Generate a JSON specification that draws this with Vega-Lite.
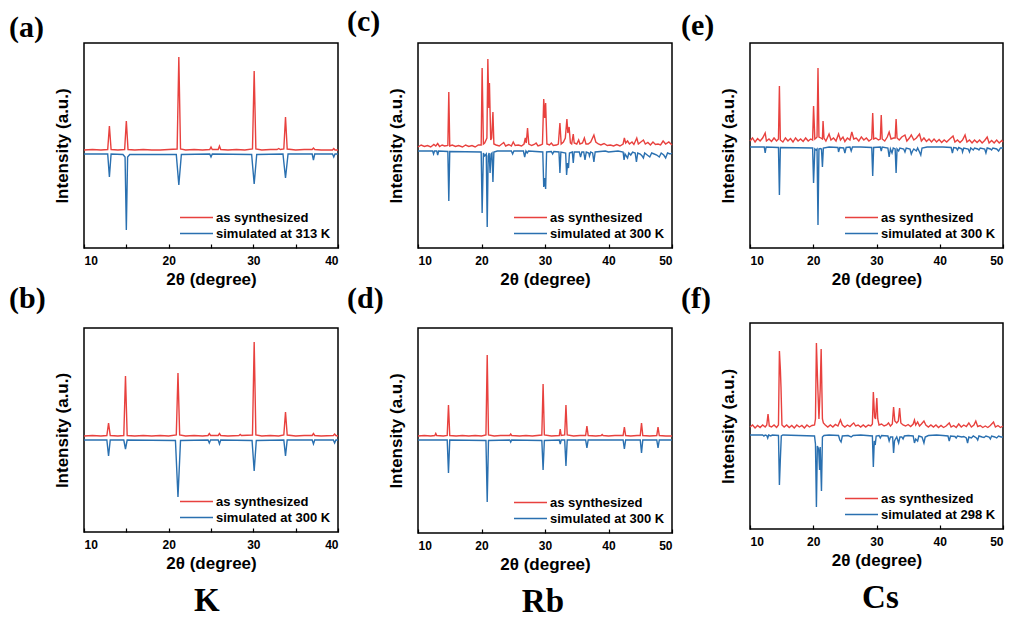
{
  "$schema": "https://vega.github.io/schema/vega-lite/v6.json",
  "background": "white",
  "padding": {"left": 8, "top": 6, "right": 5, "bottom": 3},
  "config": {
    "view": {"stroke": "black", "strokeWidth": 1.5},
    "axis": {"grid": false, "domain": false, "labelFont": "Liberation Sans", "labelFontWeight": "bold", "labelFontSize": 12, "labelColor": "black", "titleFont": "Liberation Sans", "titleColor": "black", "tickColor": "black", "tickWidth": 1.2},
    "legend": {"orient": "bottom-right", "offset": 7, "padding": 0, "symbolType": "M-1,0H5", "symbolStrokeWidth": 2, "symbolSize": 121, "labelFont": "Liberation Sans", "labelFontSize": 13, "labelFontWeight": "bold", "labelColor": "black", "labelOffset": 24, "rowPadding": 2, "title": null},
    "title": {"font": "Liberation Serif", "fontWeight": "bold", "color": "black"},
    "line": {"strokeWidth": 1.4}
  },
  "datasets": {
    "a_red": [
      {"x":10,"y":98},{"x":11,"y":98.5},{"x":12,"y":98},{"x":12.8,"y":98.5},{"x":13.0,"y":122},{"x":13.2,"y":98.5},{"x":14,"y":98},{"x":14.8,"y":98.5},{"x":15.0,"y":127},{"x":15.2,"y":98.5},{"x":16,"y":98},{"x":17,"y":98.5},{"x":18,"y":98},{"x":19,"y":98},{"x":20,"y":98.5},{"x":21.0,"y":99},{"x":21.2,"y":191},{"x":21.4,"y":99},{"x":22,"y":98},{"x":23,"y":98.5},{"x":24,"y":98},{"x":24.85,"y":98.5},{"x":25.0,"y":101},{"x":25.15,"y":98.5},{"x":25.85,"y":98.5},{"x":26.0,"y":102},{"x":26.15,"y":98.5},{"x":27,"y":98},{"x":28,"y":98.5},{"x":29,"y":98},{"x":29.9,"y":99},{"x":30.1,"y":177},{"x":30.3,"y":99},{"x":31,"y":98},{"x":32,"y":98.5},{"x":32.8,"y":98.5},{"x":33.0,"y":99.5},{"x":33.2,"y":98.5},{"x":33.6,"y":99},{"x":33.8,"y":131},{"x":34.0,"y":99},{"x":35,"y":98},{"x":36,"y":98.5},{"x":36.95,"y":98.5},{"x":37.1,"y":100},{"x":37.25,"y":98.5},{"x":38,"y":98},{"x":39.35,"y":98},{"x":39.5,"y":99.5},{"x":39.65,"y":98},{"x":40,"y":98}
    ],
    "a_blue": [
      {"x":10,"y":94},{"x":12.8,"y":94},{"x":13.0,"y":71},{"x":13.2,"y":94},{"x":14.6,"y":93.5},{"x":14.85,"y":91},{"x":15.0,"y":18},{"x":15.15,"y":91},{"x":15.4,"y":93.5},{"x":20.9,"y":93.5},{"x":21.2,"y":63},{"x":21.5,"y":93.5},{"x":24.85,"y":94},{"x":25.0,"y":91},{"x":25.15,"y":94},{"x":29.8,"y":93.5},{"x":30.1,"y":64},{"x":30.4,"y":93.5},{"x":33.5,"y":94},{"x":33.8,"y":70},{"x":34.1,"y":94},{"x":36.95,"y":94},{"x":37.1,"y":88},{"x":37.25,"y":94},{"x":39.35,"y":94},{"x":39.5,"y":91},{"x":39.65,"y":94},{"x":40,"y":94}
    ],
    "b_red": [
      {"x":10,"y":96},{"x":11,"y":96.5},{"x":12,"y":96},{"x":12.7,"y":96.5},{"x":12.9,"y":109},{"x":13.1,"y":96.5},{"x":14,"y":96},{"x":14.7,"y":96.5},{"x":14.9,"y":156},{"x":15.1,"y":96.5},{"x":16,"y":96},{"x":17,"y":96.5},{"x":18,"y":96},{"x":19,"y":96.5},{"x":20,"y":96},{"x":20.9,"y":97},{"x":21.1,"y":159},{"x":21.3,"y":97},{"x":22,"y":96},{"x":23,"y":96.5},{"x":24,"y":96},{"x":24.65,"y":96.5},{"x":24.8,"y":98.5},{"x":24.95,"y":96.5},{"x":25.85,"y":96.5},{"x":26.0,"y":98.5},{"x":26.15,"y":96.5},{"x":27,"y":96},{"x":28.3,"y":96.5},{"x":28.45,"y":97.5},{"x":28.6,"y":96.5},{"x":29.9,"y":97},{"x":30.1,"y":190},{"x":30.3,"y":97},{"x":31,"y":96},{"x":32,"y":96.5},{"x":33,"y":96},{"x":33.6,"y":97},{"x":33.8,"y":120},{"x":34.0,"y":97},{"x":35,"y":96},{"x":36,"y":96.5},{"x":36.95,"y":96.5},{"x":37.1,"y":98.5},{"x":37.25,"y":96.5},{"x":38,"y":96},{"x":39.45,"y":96.5},{"x":39.6,"y":98},{"x":39.75,"y":96.5},{"x":40,"y":96}
    ],
    "b_blue": [
      {"x":10,"y":92},{"x":12.7,"y":92},{"x":12.9,"y":76},{"x":13.1,"y":92},{"x":14.7,"y":92},{"x":14.9,"y":83},{"x":15.1,"y":92},{"x":20.8,"y":91.5},{"x":21.1,"y":35},{"x":21.4,"y":91.5},{"x":24.65,"y":92},{"x":24.8,"y":89},{"x":24.95,"y":92},{"x":25.85,"y":92},{"x":26.0,"y":88},{"x":26.15,"y":92},{"x":29.85,"y":91.5},{"x":30.1,"y":61},{"x":30.35,"y":91.5},{"x":33.6,"y":92},{"x":33.8,"y":76},{"x":34.0,"y":92},{"x":36.95,"y":92},{"x":37.1,"y":88},{"x":37.25,"y":92},{"x":39.45,"y":92},{"x":39.6,"y":89},{"x":39.75,"y":92},{"x":40,"y":92}
    ],
    "c_red": [
      {"x":10,"y":101},{"x":10.5,"y":103},{"x":11,"y":101.5},{"x":11.5,"y":102.5},{"x":12,"y":101},{"x":12.5,"y":103.5},{"x":12.8,"y":102},{"x":13.1,"y":104.5},{"x":13.4,"y":101.5},{"x":13.8,"y":103},{"x":14.2,"y":102},{"x":14.7,"y":102.5},{"x":14.85,"y":156},{"x":15.0,"y":102},{"x":15.4,"y":103},{"x":15.9,"y":101.5},{"x":16.4,"y":102.5},{"x":17,"y":101},{"x":17.5,"y":103},{"x":18,"y":101.5},{"x":18.5,"y":102.5},{"x":19,"y":101},{"x":19.5,"y":103},{"x":19.95,"y":103},{"x":20.1,"y":180},{"x":20.3,"y":104},{"x":20.5,"y":105},{"x":20.85,"y":110},{"x":21.0,"y":189},{"x":21.15,"y":140},{"x":21.25,"y":165},{"x":21.45,"y":108},{"x":21.6,"y":110},{"x":21.8,"y":136},{"x":21.95,"y":104},{"x":22.3,"y":103},{"x":22.8,"y":102},{"x":23.2,"y":104},{"x":23.5,"y":105.5},{"x":23.8,"y":102},{"x":24.3,"y":103.5},{"x":24.7,"y":102},{"x":25.0,"y":106},{"x":25.3,"y":102.5},{"x":25.8,"y":103},{"x":26.3,"y":102},{"x":26.7,"y":104},{"x":26.9,"y":110},{"x":27.05,"y":105},{"x":27.25,"y":120},{"x":27.45,"y":104},{"x":27.9,"y":102.5},{"x":28.3,"y":103.5},{"x":28.6,"y":105},{"x":28.9,"y":102},{"x":29.3,"y":103},{"x":29.6,"y":104},{"x":29.8,"y":149},{"x":29.95,"y":130},{"x":30.1,"y":145},{"x":30.3,"y":104},{"x":30.7,"y":103},{"x":31.0,"y":105},{"x":31.3,"y":102.5},{"x":31.8,"y":103},{"x":32.1,"y":104},{"x":32.35,"y":125},{"x":32.55,"y":104},{"x":32.9,"y":106},{"x":33.2,"y":110},{"x":33.45,"y":129},{"x":33.6,"y":115},{"x":33.8,"y":121},{"x":34.0,"y":105},{"x":34.2,"y":104},{"x":34.45,"y":114},{"x":34.6,"y":105},{"x":35.0,"y":104},{"x":35.3,"y":108},{"x":35.5,"y":104},{"x":35.9,"y":105},{"x":36.2,"y":110},{"x":36.45,"y":104},{"x":36.8,"y":104},{"x":37.2,"y":106},{"x":37.7,"y":113},{"x":38.0,"y":106},{"x":38.4,"y":104},{"x":38.8,"y":103},{"x":39.3,"y":104.5},{"x":39.8,"y":102.5},{"x":40.3,"y":103},{"x":40.8,"y":102},{"x":41.3,"y":103.5},{"x":41.8,"y":102},{"x":42.3,"y":104},{"x":42.5,"y":110},{"x":42.7,"y":105},{"x":43.0,"y":107},{"x":43.3,"y":104},{"x":43.7,"y":106},{"x":44.0,"y":103.5},{"x":44.45,"y":110},{"x":44.7,"y":104},{"x":45.1,"y":106},{"x":45.5,"y":108},{"x":45.8,"y":104},{"x":46.2,"y":105.5},{"x":46.6,"y":103},{"x":47.0,"y":106},{"x":47.4,"y":103.5},{"x":47.8,"y":104},{"x":48.2,"y":103},{"x":48.6,"y":107},{"x":49.0,"y":104},{"x":49.5,"y":106},{"x":50,"y":103}
    ],
    "c_blue": [
      {"x":10,"y":97},{"x":12.3,"y":97},{"x":12.45,"y":94},{"x":12.6,"y":97},{"x":12.95,"y":97},{"x":13.1,"y":93},{"x":13.25,"y":97},{"x":14.7,"y":96.5},{"x":14.85,"y":47},{"x":15.0,"y":96.5},{"x":19.95,"y":96},{"x":20.1,"y":35},{"x":20.3,"y":95},{"x":20.5,"y":92},{"x":20.75,"y":94},{"x":20.9,"y":21},{"x":21.05,"y":92},{"x":21.2,"y":95},{"x":21.35,"y":75},{"x":21.5,"y":94},{"x":21.65,"y":95},{"x":21.8,"y":66},{"x":21.95,"y":96},{"x":22.5,"y":97},{"x":24.7,"y":97},{"x":24.9,"y":94},{"x":25.1,"y":97},{"x":26.6,"y":97},{"x":26.8,"y":91},{"x":27.0,"y":97},{"x":27.2,"y":95},{"x":27.4,"y":97},{"x":29.65,"y":96},{"x":29.8,"y":61},{"x":29.95,"y":70},{"x":30.1,"y":59},{"x":30.25,"y":96},{"x":31.0,"y":96.5},{"x":31.2,"y":94},{"x":31.4,"y":96.5},{"x":32.2,"y":96},{"x":32.35,"y":75},{"x":32.5,"y":96},{"x":33.25,"y":95},{"x":33.4,"y":73},{"x":33.55,"y":85},{"x":33.7,"y":80},{"x":33.85,"y":95},{"x":34.3,"y":96},{"x":34.45,"y":85},{"x":34.6,"y":96},{"x":35.4,"y":96},{"x":35.6,"y":91},{"x":35.8,"y":96},{"x":36.1,"y":96},{"x":36.3,"y":88},{"x":36.5,"y":96},{"x":36.9,"y":95},{"x":37.0,"y":92},{"x":37.2,"y":96},{"x":37.5,"y":95},{"x":37.7,"y":86},{"x":37.9,"y":96},{"x":39.5,"y":97},{"x":40,"y":96},{"x":41.5,"y":97},{"x":42.3,"y":96},{"x":42.45,"y":88},{"x":42.6,"y":94},{"x":42.8,"y":92},{"x":43.0,"y":90},{"x":43.2,"y":95},{"x":43.5,"y":93},{"x":43.8,"y":96},{"x":44.2,"y":95},{"x":44.4,"y":86},{"x":44.6,"y":95},{"x":45.0,"y":94},{"x":45.3,"y":92},{"x":45.5,"y":90},{"x":45.7,"y":95},{"x":46.1,"y":93},{"x":46.5,"y":91},{"x":46.8,"y":95},{"x":47.2,"y":94},{"x":47.6,"y":93},{"x":48.0,"y":91},{"x":48.3,"y":95},{"x":48.7,"y":93},{"x":49.0,"y":90},{"x":49.3,"y":95},{"x":49.7,"y":94},{"x":50,"y":95}
    ],
    "d_red": [
      {"x":10,"y":97},{"x":11,"y":97.5},{"x":12,"y":97},{"x":12.65,"y":97.5},{"x":12.8,"y":99.5},{"x":12.95,"y":97.5},{"x":14,"y":97},{"x":14.6,"y":97.5},{"x":14.8,"y":128},{"x":15.0,"y":97.5},{"x":16,"y":97},{"x":17,"y":97.5},{"x":18,"y":97},{"x":19,"y":97.5},{"x":20,"y":97},{"x":20.7,"y":98},{"x":20.9,"y":178},{"x":21.1,"y":98},{"x":22,"y":97},{"x":23,"y":97.5},{"x":24.45,"y":97.5},{"x":24.6,"y":99},{"x":24.75,"y":97.5},{"x":26,"y":97},{"x":27,"y":97.5},{"x":28,"y":97},{"x":29.5,"y":98},{"x":29.7,"y":149},{"x":29.9,"y":98},{"x":31,"y":97},{"x":32.25,"y":97.5},{"x":32.4,"y":104},{"x":32.55,"y":97.5},{"x":33.1,"y":98},{"x":33.3,"y":128},{"x":33.5,"y":98},{"x":34.5,"y":97},{"x":35.5,"y":97.5},{"x":36.4,"y":97.5},{"x":36.6,"y":107},{"x":36.8,"y":97.5},{"x":38,"y":97},{"x":38.85,"y":97.5},{"x":39.0,"y":98.5},{"x":39.15,"y":97.5},{"x":40,"y":97},{"x":41,"y":97.5},{"x":42.3,"y":97.5},{"x":42.5,"y":106},{"x":42.7,"y":97.5},{"x":43.5,"y":97},{"x":44.5,"y":97.5},{"x":45.0,"y":97.5},{"x":45.2,"y":110},{"x":45.4,"y":97.5},{"x":46.5,"y":97},{"x":47.6,"y":97.5},{"x":47.8,"y":106},{"x":48.0,"y":97.5},{"x":49,"y":97},{"x":50,"y":97}
    ],
    "d_blue": [
      {"x":10,"y":93},{"x":14.6,"y":93},{"x":14.8,"y":60},{"x":15.0,"y":93},{"x":20.7,"y":92.5},{"x":20.9,"y":31},{"x":21.1,"y":92.5},{"x":24.45,"y":93},{"x":24.6,"y":91},{"x":24.75,"y":93},{"x":29.5,"y":92.5},{"x":29.7,"y":63},{"x":29.9,"y":92.5},{"x":32.25,"y":93},{"x":32.4,"y":89},{"x":32.55,"y":93},{"x":33.1,"y":93},{"x":33.3,"y":67},{"x":33.5,"y":93},{"x":36.4,"y":93},{"x":36.6,"y":85},{"x":36.8,"y":93},{"x":42.3,"y":93},{"x":42.5,"y":84},{"x":42.7,"y":93},{"x":45.0,"y":93},{"x":45.2,"y":80},{"x":45.4,"y":93},{"x":47.6,"y":93},{"x":47.8,"y":85},{"x":48.0,"y":93},{"x":50,"y":93}
    ],
    "e_red": [
      {"x":10,"y":107},{"x":10.4,"y":110},{"x":10.8,"y":106},{"x":11.2,"y":109.5},{"x":11.6,"y":107},{"x":12.0,"y":110},{"x":12.4,"y":115},{"x":12.6,"y":107},{"x":13.0,"y":109},{"x":13.4,"y":106.5},{"x":13.8,"y":110},{"x":14.2,"y":107},{"x":14.5,"y":109},{"x":14.65,"y":162},{"x":14.8,"y":108},{"x":15.2,"y":106},{"x":15.6,"y":110},{"x":16.0,"y":107},{"x":16.4,"y":109.5},{"x":16.8,"y":106},{"x":17.2,"y":110},{"x":17.6,"y":107},{"x":18.0,"y":109},{"x":18.4,"y":106.5},{"x":18.8,"y":110},{"x":19.2,"y":107},{"x":19.6,"y":109},{"x":19.9,"y":108},{"x":20.05,"y":142},{"x":20.25,"y":109},{"x":20.45,"y":110},{"x":20.6,"y":111},{"x":20.75,"y":180},{"x":20.9,"y":111},{"x":21.2,"y":110},{"x":21.45,"y":109},{"x":21.55,"y":127},{"x":21.7,"y":110},{"x":22.0,"y":107},{"x":22.5,"y":114},{"x":22.8,"y":108},{"x":23.2,"y":110},{"x":23.6,"y":107},{"x":24.0,"y":114},{"x":24.3,"y":108},{"x":24.7,"y":111},{"x":25.0,"y":106.5},{"x":25.4,"y":110},{"x":25.8,"y":108},{"x":26.1,"y":116},{"x":26.4,"y":109},{"x":26.8,"y":110},{"x":27.2,"y":107},{"x":27.6,"y":111},{"x":28.0,"y":108},{"x":28.4,"y":110},{"x":28.8,"y":107},{"x":29.25,"y":109},{"x":29.4,"y":135},{"x":29.55,"y":109},{"x":29.9,"y":110},{"x":30.3,"y":108},{"x":30.6,"y":109},{"x":30.75,"y":133},{"x":30.9,"y":109},{"x":31.3,"y":107},{"x":31.7,"y":111},{"x":32.0,"y":116},{"x":32.3,"y":109},{"x":32.7,"y":110},{"x":32.95,"y":110},{"x":33.1,"y":129},{"x":33.25,"y":110},{"x":33.6,"y":108},{"x":34.0,"y":111},{"x":34.5,"y":113},{"x":34.8,"y":107},{"x":35.2,"y":110},{"x":35.5,"y":113},{"x":35.9,"y":108},{"x":36.3,"y":110},{"x":36.8,"y":114},{"x":37.1,"y":107},{"x":37.5,"y":110},{"x":37.9,"y":106.5},{"x":38.3,"y":109},{"x":38.7,"y":106},{"x":39.1,"y":109},{"x":39.5,"y":106},{"x":39.9,"y":108.5},{"x":40.3,"y":105.5},{"x":40.7,"y":108},{"x":41.1,"y":106},{"x":41.5,"y":108.5},{"x":42.1,"y":112},{"x":42.4,"y":106},{"x":42.8,"y":108},{"x":43.2,"y":105.5},{"x":43.6,"y":108},{"x":44.0,"y":113},{"x":44.3,"y":106},{"x":44.7,"y":108},{"x":45.1,"y":105},{"x":45.5,"y":108},{"x":45.9,"y":105.5},{"x":46.3,"y":108},{"x":46.7,"y":105},{"x":47.1,"y":107.5},{"x":47.5,"y":111},{"x":47.8,"y":105},{"x":48.2,"y":107.5},{"x":48.6,"y":105},{"x":49.0,"y":108},{"x":49.4,"y":105},{"x":49.8,"y":107.5},{"x":50,"y":106}
    ],
    "e_blue": [
      {"x":10,"y":101},{"x":12.25,"y":101},{"x":12.4,"y":95},{"x":12.55,"y":101},{"x":14.5,"y":100.5},{"x":14.65,"y":53},{"x":14.8,"y":100.5},{"x":19.9,"y":100},{"x":20.05,"y":65},{"x":20.25,"y":99},{"x":20.45,"y":98},{"x":20.6,"y":99},{"x":20.75,"y":23},{"x":20.9,"y":99},{"x":21.1,"y":99.5},{"x":21.3,"y":99},{"x":21.45,"y":81},{"x":21.6,"y":100},{"x":22.5,"y":101},{"x":23.9,"y":100.5},{"x":24.0,"y":96},{"x":24.2,"y":100.5},{"x":24.8,"y":100},{"x":25.0,"y":95},{"x":25.2,"y":100.5},{"x":25.8,"y":101},{"x":26.0,"y":97},{"x":26.2,"y":101},{"x":27.5,"y":101},{"x":29.25,"y":100.5},{"x":29.4,"y":72},{"x":29.55,"y":100.5},{"x":30.6,"y":101},{"x":30.75,"y":97},{"x":30.9,"y":101},{"x":31.8,"y":100},{"x":32.0,"y":91},{"x":32.2,"y":99},{"x":32.45,"y":95},{"x":32.65,"y":100},{"x":32.95,"y":99},{"x":33.1,"y":75},{"x":33.25,"y":99},{"x":33.5,"y":97},{"x":33.7,"y":100},{"x":34.3,"y":99},{"x":34.5,"y":96},{"x":34.7,"y":100},{"x":35.3,"y":99},{"x":35.5,"y":94},{"x":35.7,"y":97},{"x":35.9,"y":99},{"x":36.3,"y":97},{"x":36.5,"y":100},{"x":36.8,"y":96},{"x":37.0,"y":93},{"x":37.2,"y":100},{"x":38,"y":101},{"x":39,"y":101},{"x":40.5,"y":101},{"x":41.8,"y":100.5},{"x":42.0,"y":95},{"x":42.2,"y":100.5},{"x":42.6,"y":100},{"x":42.8,"y":98},{"x":43.0,"y":100.5},{"x":43.5,"y":99},{"x":43.6,"y":96},{"x":43.8,"y":100},{"x":44.5,"y":99},{"x":44.7,"y":96},{"x":44.9,"y":100},{"x":45.3,"y":98},{"x":45.5,"y":100},{"x":46.0,"y":99},{"x":46.2,"y":98},{"x":46.4,"y":100},{"x":47.1,"y":99},{"x":47.3,"y":95},{"x":47.5,"y":100},{"x":48.0,"y":99},{"x":48.2,"y":98},{"x":48.4,"y":100},{"x":49.0,"y":99},{"x":49.3,"y":97},{"x":49.6,"y":100},{"x":50,"y":100}
    ],
    "f_red": [
      {"x":10,"y":102},{"x":10.4,"y":104},{"x":10.8,"y":101},{"x":11.2,"y":103.5},{"x":11.6,"y":101.5},{"x":12.0,"y":104},{"x":12.4,"y":102},{"x":12.65,"y":104},{"x":12.85,"y":115},{"x":13.05,"y":103},{"x":13.4,"y":102},{"x":13.8,"y":104},{"x":14.2,"y":101.5},{"x":14.5,"y":104},{"x":14.65,"y":178},{"x":14.8,"y":160},{"x":14.9,"y":142},{"x":15.05,"y":104},{"x":15.4,"y":102},{"x":15.8,"y":104},{"x":16.2,"y":101.5},{"x":16.6,"y":103.5},{"x":17.0,"y":101},{"x":17.4,"y":104},{"x":17.8,"y":102},{"x":18.2,"y":103.5},{"x":18.6,"y":101},{"x":19.0,"y":104},{"x":19.4,"y":102},{"x":19.8,"y":103.5},{"x":20.2,"y":104},{"x":20.35,"y":110},{"x":20.5,"y":186},{"x":20.7,"y":145},{"x":20.9,"y":110},{"x":21.1,"y":140},{"x":21.25,"y":180},{"x":21.45,"y":110},{"x":21.6,"y":106},{"x":21.9,"y":104},{"x":22.3,"y":102},{"x":22.7,"y":104},{"x":23.1,"y":102},{"x":23.5,"y":104.5},{"x":23.9,"y":103},{"x":24.3,"y":109},{"x":24.6,"y":104},{"x":25.0,"y":102},{"x":25.4,"y":104},{"x":25.8,"y":102.5},{"x":26.2,"y":105},{"x":26.4,"y":106},{"x":26.7,"y":103},{"x":27.1,"y":104},{"x":27.5,"y":102},{"x":27.9,"y":104},{"x":28.3,"y":102},{"x":28.7,"y":104},{"x":29.1,"y":103},{"x":29.35,"y":105},{"x":29.5,"y":137},{"x":29.7,"y":112},{"x":29.85,"y":110},{"x":30.05,"y":131},{"x":30.2,"y":110},{"x":30.4,"y":104},{"x":30.8,"y":105},{"x":31.2,"y":103},{"x":31.6,"y":104},{"x":31.9,"y":106},{"x":32.2,"y":103},{"x":32.5,"y":105},{"x":32.7,"y":122},{"x":32.9,"y":108},{"x":33.2,"y":106},{"x":33.45,"y":108},{"x":33.65,"y":121},{"x":33.85,"y":106},{"x":34.2,"y":104},{"x":34.6,"y":103},{"x":35.0,"y":104.5},{"x":35.4,"y":102.5},{"x":35.8,"y":105},{"x":36.0,"y":109},{"x":36.2,"y":104},{"x":36.5,"y":107},{"x":36.8,"y":103},{"x":37.1,"y":105},{"x":37.5,"y":108},{"x":37.8,"y":104},{"x":38.2,"y":102},{"x":38.6,"y":104},{"x":39.0,"y":102},{"x":39.4,"y":104},{"x":39.8,"y":101.5},{"x":40.2,"y":103.5},{"x":40.6,"y":101.5},{"x":41.0,"y":103},{"x":41.5,"y":106},{"x":41.8,"y":102},{"x":42.2,"y":103.5},{"x":42.6,"y":101.5},{"x":43.0,"y":105},{"x":43.4,"y":102},{"x":43.8,"y":104},{"x":44.2,"y":102.5},{"x":44.6,"y":106},{"x":45.0,"y":102},{"x":45.4,"y":104},{"x":45.7,"y":108},{"x":46.0,"y":102.5},{"x":46.4,"y":103.5},{"x":46.8,"y":101.5},{"x":47.2,"y":103},{"x":47.6,"y":101.5},{"x":48.0,"y":103.5},{"x":48.5,"y":107},{"x":48.8,"y":102},{"x":49.2,"y":103.5},{"x":49.6,"y":101.5},{"x":50,"y":103}
    ],
    "f_blue": [
      {"x":10,"y":94},{"x":12.0,"y":94},{"x":12.2,"y":93},{"x":12.4,"y":94},{"x":12.65,"y":93.5},{"x":12.8,"y":91},{"x":12.95,"y":94},{"x":13.3,"y":93},{"x":13.5,"y":94},{"x":14.5,"y":93.5},{"x":14.65,"y":44},{"x":14.8,"y":70},{"x":14.95,"y":93},{"x":15.2,"y":94},{"x":20.2,"y":93},{"x":20.35,"y":85},{"x":20.5,"y":22},{"x":20.65,"y":83},{"x":20.85,"y":80},{"x":21.0,"y":59},{"x":21.1,"y":82},{"x":21.3,"y":38},{"x":21.45,"y":92},{"x":21.7,"y":93.5},{"x":22.5,"y":94},{"x":24.0,"y":93.5},{"x":24.2,"y":89},{"x":24.4,"y":87},{"x":24.6,"y":93},{"x":25.5,"y":93.5},{"x":26.0,"y":92},{"x":26.3,"y":93.5},{"x":27.5,"y":94},{"x":29.35,"y":93},{"x":29.5,"y":62},{"x":29.65,"y":88},{"x":29.8,"y":84},{"x":29.95,"y":93},{"x":30.4,"y":93.5},{"x":30.6,"y":91},{"x":30.8,"y":93.5},{"x":31.8,"y":93},{"x":32.0,"y":88},{"x":32.2,"y":92},{"x":32.55,"y":92},{"x":32.7,"y":76},{"x":32.85,"y":88},{"x":33.0,"y":90},{"x":33.2,"y":92},{"x":33.5,"y":86},{"x":33.7,"y":92},{"x":34.0,"y":92},{"x":34.2,"y":90},{"x":34.4,"y":93},{"x":35.0,"y":93.5},{"x":35.8,"y":93},{"x":36.0,"y":86},{"x":36.2,"y":90},{"x":36.5,"y":88},{"x":36.7,"y":93},{"x":37.2,"y":92},{"x":37.5,"y":86},{"x":37.7,"y":92},{"x":38.2,"y":93.5},{"x":39.5,"y":94},{"x":40.5,"y":93.5},{"x":41.3,"y":93},{"x":41.5,"y":88},{"x":41.7,"y":93},{"x":42.4,"y":92.5},{"x":42.6,"y":91},{"x":42.8,"y":93},{"x":43.5,"y":92},{"x":43.8,"y":92.5},{"x":44.2,"y":91},{"x":44.4,"y":86},{"x":44.6,"y":92},{"x":45.0,"y":91},{"x":45.3,"y":93},{"x":45.8,"y":91},{"x":46.0,"y":89},{"x":46.2,"y":93},{"x":46.7,"y":92},{"x":47.0,"y":91.5},{"x":47.3,"y":93},{"x":47.8,"y":92},{"x":48.0,"y":90},{"x":48.2,"y":93},{"x":48.7,"y":92},{"x":49.0,"y":91},{"x":49.3,"y":93},{"x":49.7,"y":92},{"x":50,"y":92}
    ]
  },
  "spacing": 4,
  "resolve": {"scale": {"color": "independent"}, "legend": {"color": "independent"}},
  "hconcat": [
    {
      "spacing": 80,
      "bounds": "flush",
      "resolve": {"scale": {"color": "independent"}, "legend": {"color": "independent"}},
      "title": {"text": "K", "orient": "bottom", "anchor": "middle", "fontSize": 33, "offset": 13, "dx": 32},
      "vconcat": [
        {
          "width": 254, "height": 205,
          "title": {"text": "(a)", "anchor": "start", "frame": "group", "dx": -75, "offset": 0, "fontSize": 30},
          "layer": [
            {"data": {"name": "a_red"}, "mark": {"type": "line", "color": "#e8413e"},
             "encoding": {
               "x": {"field": "x", "type": "quantitative", "scale": {"domain": [10, 40], "nice": false}, "axis": {"values": [10, 15, 20, 25, 30, 35, 40], "labelExpr": "datum.value % 10 === 0 ? datum.label : ''", "tickSize": -4, "labelPadding": 11, "title": "2θ (degree)", "titleFontSize": 17, "titleFontWeight": "bold", "titlePadding": 5}},
               "y": {"field": "y", "type": "quantitative", "scale": {"domain": [0, 205], "nice": false}, "axis": {"labels": false, "ticks": false, "title": "Intensity (a.u.)", "titleFontSize": 17, "titleFontWeight": "bold", "titlePadding": 13}},
               "color": {"datum": "as synthesized", "type": "nominal", "scale": {"domain": ["as synthesized", "simulated at 313 K"], "range": ["#e8413e", "#2a70b0"]}}
             }},
            {"data": {"name": "a_blue"}, "mark": {"type": "line"},
             "encoding": {
               "x": {"field": "x", "type": "quantitative"},
               "y": {"field": "y", "type": "quantitative"},
               "color": {"datum": "simulated at 313 K", "type": "nominal"}
             }}
          ]
        },
        {
          "width": 254, "height": 204,
          "title": {"text": "(b)", "anchor": "start", "frame": "group", "dx": -75, "offset": 14, "fontSize": 30},
          "layer": [
            {"data": {"name": "b_red"}, "mark": {"type": "line"},
             "encoding": {
               "x": {"field": "x", "type": "quantitative", "scale": {"domain": [10, 40], "nice": false}, "axis": {"values": [10, 15, 20, 25, 30, 35, 40], "labelExpr": "datum.value % 10 === 0 ? datum.label : ''", "tickSize": -4, "labelPadding": 11, "title": "2θ (degree)", "titleFontSize": 17, "titleFontWeight": "bold", "titlePadding": 5}},
               "y": {"field": "y", "type": "quantitative", "scale": {"domain": [0, 204], "nice": false}, "axis": {"labels": false, "ticks": false, "title": "Intensity (a.u.)", "titleFontSize": 17, "titleFontWeight": "bold", "titlePadding": 13}},
               "color": {"datum": "as synthesized", "type": "nominal", "scale": {"domain": ["as synthesized", "simulated at 300 K"], "range": ["#e8413e", "#2a70b0"]}}
             }},
            {"data": {"name": "b_blue"}, "mark": {"type": "line"},
             "encoding": {
               "x": {"field": "x", "type": "quantitative"},
               "y": {"field": "y", "type": "quantitative"},
               "color": {"datum": "simulated at 300 K", "type": "nominal"}
             }}
          ]
        }
      ]
    },
    {
      "spacing": 80,
      "bounds": "flush",
      "resolve": {"scale": {"color": "independent"}, "legend": {"color": "independent"}},
      "title": {"text": "Rb", "orient": "bottom", "anchor": "middle", "fontSize": 33, "offset": 13, "dx": 32},
      "vconcat": [
        {
          "width": 254, "height": 205,
          "title": {"text": "(c)", "anchor": "start", "frame": "group", "dx": -71, "offset": 6, "fontSize": 30},
          "layer": [
            {"data": {"name": "c_red"}, "mark": {"type": "line"},
             "encoding": {
               "x": {"field": "x", "type": "quantitative", "scale": {"domain": [10, 50], "nice": false}, "axis": {"values": [10, 15, 20, 25, 30, 35, 40, 45, 50], "labelExpr": "datum.value % 10 === 0 ? datum.label : ''", "tickSize": -4, "labelPadding": 11, "title": "2θ (degree)", "titleFontSize": 17, "titleFontWeight": "bold", "titlePadding": 5}},
               "y": {"field": "y", "type": "quantitative", "scale": {"domain": [0, 205], "nice": false}, "axis": {"labels": false, "ticks": false, "title": "Intensity (a.u.)", "titleFontSize": 17, "titleFontWeight": "bold", "titlePadding": 13}},
               "color": {"datum": "as synthesized", "type": "nominal", "scale": {"domain": ["as synthesized", "simulated at 300 K"], "range": ["#e8413e", "#2a70b0"]}}
             }},
            {"data": {"name": "c_blue"}, "mark": {"type": "line"},
             "encoding": {
               "x": {"field": "x", "type": "quantitative"},
               "y": {"field": "y", "type": "quantitative"},
               "color": {"datum": "simulated at 300 K", "type": "nominal"}
             }}
          ]
        },
        {
          "width": 254, "height": 205,
          "title": {"text": "(d)", "anchor": "start", "frame": "group", "dx": -71, "offset": 14, "fontSize": 30},
          "layer": [
            {"data": {"name": "d_red"}, "mark": {"type": "line"},
             "encoding": {
               "x": {"field": "x", "type": "quantitative", "scale": {"domain": [10, 50], "nice": false}, "axis": {"values": [10, 15, 20, 25, 30, 35, 40, 45, 50], "labelExpr": "datum.value % 10 === 0 ? datum.label : ''", "tickSize": -4, "labelPadding": 11, "title": "2θ (degree)", "titleFontSize": 17, "titleFontWeight": "bold", "titlePadding": 5}},
               "y": {"field": "y", "type": "quantitative", "scale": {"domain": [0, 205], "nice": false}, "axis": {"labels": false, "ticks": false, "title": "Intensity (a.u.)", "titleFontSize": 17, "titleFontWeight": "bold", "titlePadding": 13}},
               "color": {"datum": "as synthesized", "type": "nominal", "scale": {"domain": ["as synthesized", "simulated at 300 K"], "range": ["#e8413e", "#2a70b0"]}}
             }},
            {"data": {"name": "d_blue"}, "mark": {"type": "line"},
             "encoding": {
               "x": {"field": "x", "type": "quantitative"},
               "y": {"field": "y", "type": "quantitative"},
               "color": {"datum": "simulated at 300 K", "type": "nominal"}
             }}
          ]
        }
      ]
    },
    {
      "spacing": 75,
      "bounds": "flush",
      "resolve": {"scale": {"color": "independent"}, "legend": {"color": "independent"}},
      "title": {"text": "Cs", "orient": "bottom", "anchor": "middle", "fontSize": 33, "offset": 13, "dx": 37},
      "vconcat": [
        {
          "width": 253, "height": 205,
          "title": {"text": "(e)", "anchor": "start", "frame": "group", "dx": -69, "offset": 2, "fontSize": 30},
          "layer": [
            {"data": {"name": "e_red"}, "mark": {"type": "line"},
             "encoding": {
               "x": {"field": "x", "type": "quantitative", "scale": {"domain": [10, 50], "nice": false}, "axis": {"values": [10, 15, 20, 25, 30, 35, 40, 45, 50], "labelExpr": "datum.value % 10 === 0 ? datum.label : ''", "tickSize": -4, "labelPadding": 11, "title": "2θ (degree)", "titleFontSize": 17, "titleFontWeight": "bold", "titlePadding": 5}},
               "y": {"field": "y", "type": "quantitative", "scale": {"domain": [0, 205], "nice": false}, "axis": {"labels": false, "ticks": false, "title": "Intensity (a.u.)", "titleFontSize": 17, "titleFontWeight": "bold", "titlePadding": 13}},
               "color": {"datum": "as synthesized", "type": "nominal", "scale": {"domain": ["as synthesized", "simulated at 300 K"], "range": ["#e8413e", "#2a70b0"]}}
             }},
            {"data": {"name": "e_blue"}, "mark": {"type": "line"},
             "encoding": {
               "x": {"field": "x", "type": "quantitative"},
               "y": {"field": "y", "type": "quantitative"},
               "color": {"datum": "simulated at 300 K", "type": "nominal"}
             }}
          ]
        },
        {
          "width": 253, "height": 206,
          "title": {"text": "(f)", "anchor": "start", "frame": "group", "dx": -69, "offset": 9, "fontSize": 30},
          "layer": [
            {"data": {"name": "f_red"}, "mark": {"type": "line"},
             "encoding": {
               "x": {"field": "x", "type": "quantitative", "scale": {"domain": [10, 50], "nice": false}, "axis": {"values": [10, 15, 20, 25, 30, 35, 40, 45, 50], "labelExpr": "datum.value % 10 === 0 ? datum.label : ''", "tickSize": -4, "labelPadding": 11, "title": "2θ (degree)", "titleFontSize": 17, "titleFontWeight": "bold", "titlePadding": 5}},
               "y": {"field": "y", "type": "quantitative", "scale": {"domain": [0, 206], "nice": false}, "axis": {"labels": false, "ticks": false, "title": "Intensity (a.u.)", "titleFontSize": 17, "titleFontWeight": "bold", "titlePadding": 13}},
               "color": {"datum": "as synthesized", "type": "nominal", "scale": {"domain": ["as synthesized", "simulated at 298 K"], "range": ["#e8413e", "#2a70b0"]}}
             }},
            {"data": {"name": "f_blue"}, "mark": {"type": "line"},
             "encoding": {
               "x": {"field": "x", "type": "quantitative"},
               "y": {"field": "y", "type": "quantitative"},
               "color": {"datum": "simulated at 298 K", "type": "nominal"}
             }}
          ]
        }
      ]
    }
  ]
}
